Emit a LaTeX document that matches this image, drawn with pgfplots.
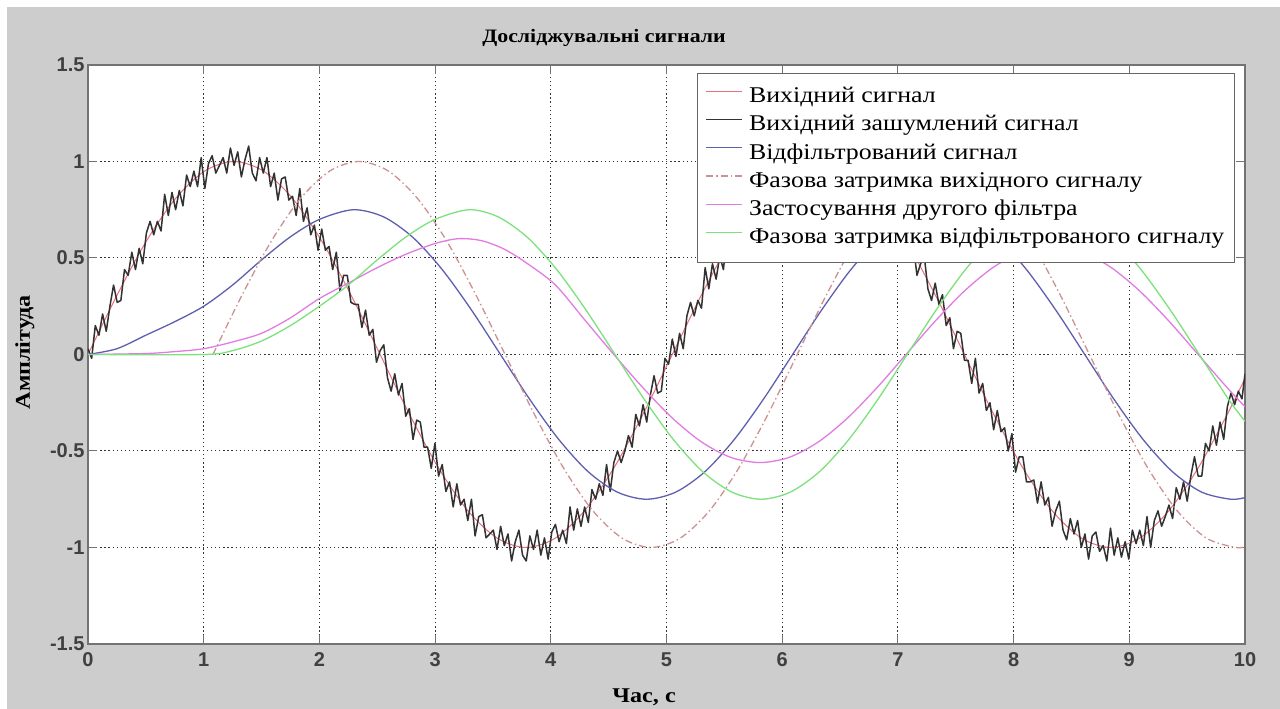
\documentclass[border=0pt]{standalone}
\usepackage{fontspec}
\setmainfont{Liberation Serif}
\setsansfont{Liberation Sans}
\newfontfamily\serifw{Liberation Serif}[FakeStretch=1.15]
\usepackage{pgfplots}
\pgfplotsset{compat=1.18}

\definecolor{figgray}{RGB}{205,205,205}
\definecolor{cred}{RGB}{235,110,125}
\definecolor{cnoise}{RGB}{50,50,50}
\definecolor{cblue}{RGB}{95,95,175}
\definecolor{cdelay}{RGB}{205,145,145}
\definecolor{cmag}{RGB}{225,125,225}
\definecolor{cgreen}{RGB}{125,225,125}

\begin{document}
\begin{tikzpicture}
\useasboundingbox (-88pt,-65pt) rectangle (1192pt,644pt);
\fill[white] (-88pt,-65pt) rectangle (1192pt,644pt);
\fill[figgray] (-81pt,-65pt) rectangle (1192pt,637pt);
\begin{axis}[
  at={(0pt,0pt)}, anchor=south west,
  scale only axis, width=1157pt, height=579pt,
  xmin=0, xmax=10, ymin=-1.5, ymax=1.5,
  xtick={0,1,2,3,4,5,6,7,8,9,10},
  xticklabels={0,1,2,3,4,5,6,7,8,9,10},
  ytick={-1.5,-1,-0.5,0,0.5,1,1.5},
  yticklabels={-1.5,-1,-0.5,0,0.5,1,1.5},
  xtick pos=both, ytick pos=both,
  tick align=inside, major tick length=9pt,
  tick style={black!55, line width=1pt},
  axis line style={black!55, line width=1.3pt},
  axis background/.style={fill=white},
  grid=major,
  major grid style={black!80, line width=1pt, dash pattern=on 1.3pt off 2.8pt},
  every tick label/.append style={font=\sffamily\bfseries\fontsize{20}{21}\selectfont, text=black!75},
  xticklabel style={yshift=-5pt},
  title={Досліджувальні сигнали},
  title style={at={(axis description cs:0.446,1.036)}, anchor=center, yshift=0pt,
    font=\serifw\bfseries\fontsize{19}{22}\selectfont},
  xlabel={Час, с},
  xlabel style={at={(axis description cs:0.4806,-0.0915)}, anchor=center,
    font=\serifw\bfseries\fontsize{21}{24}\selectfont},
  ylabel={Амплітуда},
  ylabel style={at={(axis description cs:-0.0545,0.504)}, anchor=center,
    font=\serifw\bfseries\fontsize{21}{24}\selectfont},
  legend style={at={(axis description cs:0.5264,1)}, anchor=north west, yshift=-8pt,
    draw=black!60, line width=1pt, fill=white,
    inner xsep=8pt, inner ysep=9.5pt, column sep=4pt, row sep=0pt,
    font=\serifw\fontsize{22.5}{27}\selectfont,
    nodes={inner xsep=2pt, inner ysep=2pt, text height=17.5pt, text depth=6.8pt}},
  legend cell align=left,
  legend image code/.code={\draw[#1] (0pt,6pt) -- (36pt,6pt);},
]

% clean sine
\addplot[cred, line width=1pt, smooth] coordinates {
(0,0) (0.2525,0.309) (0.505,0.588) (0.7575,0.809) (1.01,0.951) (1.2625,1)
(1.515,0.951) (1.7675,0.809) (2.02,0.588) (2.2725,0.309) (2.525,0)
(2.7775,-0.309) (3.03,-0.588) (3.2825,-0.809) (3.535,-0.951) (3.7875,-1)
(4.04,-0.951) (4.2925,-0.809) (4.545,-0.588) (4.7975,-0.309) (5.05,0)
(5.3025,0.309) (5.555,0.588) (5.8075,0.809) (6.06,0.951) (6.3125,1)
(6.565,0.951) (6.8175,0.809) (7.07,0.588) (7.3225,0.309) (7.575,0)
(7.8275,-0.309) (8.08,-0.588) (8.3325,-0.809) (8.585,-0.951) (8.8375,-1)
(9.09,-0.951) (9.3425,-0.809) (9.595,-0.588) (9.8475,-0.309) (10,-0.124)
};
\addlegendentry{Вихідний сигнал}

% sine with additive noise
\addplot[cnoise, line width=1.5pt, line join=round] coordinates {
(0,0.03) (0.0316,-0.02) (0.0631,0.15) (0.0947,0.10) (0.1263,0.21) (0.1578,0.12) (0.1894,0.25) (0.2209,0.36)
(0.2525,0.27) (0.2841,0.28) (0.3156,0.44) (0.3472,0.41) (0.3788,0.53) (0.4103,0.44) (0.4419,0.55) (0.4734,0.47)
(0.5050,0.63) (0.5366,0.69) (0.5681,0.62) (0.5997,0.69) (0.6313,0.64) (0.6628,0.83) (0.6944,0.72) (0.7259,0.84)
(0.7575,0.75) (0.7891,0.85) (0.8206,0.77) (0.8522,0.93) (0.8838,0.87) (0.9153,0.95) (0.9469,0.87) (0.9784,1.02)
(1.0100,0.86) (1.0416,0.99) (1.0731,1.03) (1.1047,0.94) (1.1363,0.98) (1.1678,1.02) (1.1994,0.94) (1.2309,1.07)
(1.2625,0.98) (1.2941,1.05) (1.3256,0.92) (1.3572,1.01) (1.3888,1.08) (1.4203,0.94) (1.4519,0.90) (1.4834,1.02)
(1.5150,0.94) (1.5466,1.02) (1.5781,0.87) (1.6097,0.94) (1.6413,0.80) (1.6728,0.91) (1.7044,0.92) (1.7359,0.80)
(1.7675,0.82) (1.7991,0.72) (1.8306,0.86) (1.8622,0.69) (1.8938,0.76) (1.9253,0.62) (1.9569,0.67) (1.9884,0.54)
(2.0200,0.65) (2.0516,0.54) (2.0831,0.56) (2.1147,0.44) (2.1463,0.53) (2.1778,0.33) (2.2094,0.41) (2.2409,0.41)
(2.2725,0.27) (2.3041,0.26) (2.3356,0.26) (2.3672,0.14) (2.3988,0.23) (2.4303,0.10) (2.4619,0.13) (2.4934,-0.04)
(2.5250,0.02) (2.5566,0.05) (2.5881,-0.12) (2.6197,-0.19) (2.6513,-0.10) (2.6828,-0.21) (2.7144,-0.15) (2.7459,-0.32)
(2.7775,-0.28) (2.8091,-0.44) (2.8406,-0.34) (2.8722,-0.35) (2.9038,-0.48) (2.9353,-0.48) (2.9669,-0.59) (2.9984,-0.46)
(3.0300,-0.63) (3.0616,-0.57) (3.0931,-0.71) (3.1247,-0.66) (3.1563,-0.79) (3.1878,-0.67) (3.2194,-0.78) (3.2509,-0.75)
(3.2825,-0.86) (3.3141,-0.75) (3.3456,-0.94) (3.3772,-0.84) (3.4088,-0.83) (3.4403,-0.95) (3.4719,-0.93) (3.5034,-0.91)
(3.5350,-1.01) (3.5666,-0.89) (3.5981,-0.99) (3.6297,-0.93) (3.6613,-1.07) (3.6928,-0.97) (3.7244,-0.91) (3.7559,-1.04)
(3.7875,-1.07) (3.8191,-0.94) (3.8506,-1.01) (3.8822,-0.91) (3.9138,-1.04) (3.9453,-0.95) (3.9769,-1.06) (4.0084,-0.92)
(4.0400,-0.88) (4.0716,-0.97) (4.1031,-0.91) (4.1347,-0.98) (4.1663,-0.79) (4.1978,-0.91) (4.2294,-0.80) (4.2609,-0.89)
(4.2925,-0.79) (4.3241,-0.87) (4.3556,-0.70) (4.3872,-0.75) (4.4188,-0.67) (4.4503,-0.73) (4.4819,-0.57) (4.5134,-0.71)
(4.5450,-0.56) (4.5766,-0.50) (4.6081,-0.56) (4.6397,-0.50) (4.6713,-0.42) (4.7028,-0.48) (4.7344,-0.31) (4.7659,-0.37)
(4.7975,-0.26) (4.8291,-0.35) (4.8606,-0.21) (4.8922,-0.11) (4.9238,-0.20) (4.9553,-0.19) (4.9869,-0.02) (5.0184,-0.05)
(5.0500,0.08) (5.0816,-0.01) (5.1131,0.11) (5.1447,0.03) (5.1763,0.20) (5.2078,0.27) (5.2394,0.20) (5.2709,0.28)
(5.3025,0.24) (5.3341,0.45) (5.3656,0.34) (5.3972,0.47) (5.4288,0.39) (5.4603,0.51) (5.4919,0.44) (5.5234,0.62)
(5.5550,0.57) (5.5866,0.66) (5.6181,0.60) (5.6497,0.76) (5.6813,0.62) (5.7128,0.76) (5.7444,0.82) (5.7759,0.75)
(5.8075,0.80) (5.8391,0.86) (5.8706,0.79) (5.9022,0.94) (5.9338,0.87) (5.9653,0.96) (5.9969,0.84) (6.0284,0.96)
(6.0600,1.04) (6.0916,0.92) (6.1231,0.90) (6.1547,1.04) (6.1863,0.98) (6.2178,1.07) (6.2494,0.95) (6.2809,1.03)
(6.3125,0.91) (6.3441,1.04) (6.3756,1.07) (6.4072,0.96) (6.4388,1.00) (6.4703,0.91) (6.5019,1.07) (6.5334,0.92)
(6.5650,1.00) (6.5966,0.88) (6.6281,0.94) (6.6597,0.83) (6.6913,0.95) (6.7228,0.85) (6.7544,0.89) (6.7859,0.78)
(6.8175,0.89) (6.8491,0.70) (6.8806,0.79) (6.9122,0.79) (6.9438,0.67) (6.9753,0.67) (7.0069,0.68) (7.0384,0.56)
(7.0700,0.66) (7.1016,0.54) (7.1331,0.57) (7.1647,0.41) (7.1963,0.47) (7.2278,0.51) (7.2594,0.34) (7.2909,0.28)
(7.3225,0.37) (7.3541,0.26) (7.3856,0.31) (7.4172,0.15) (7.4488,0.19) (7.4803,0.03) (7.5119,0.12) (7.5434,0.11)
(7.5750,-0.03) (7.6066,-0.03) (7.6381,-0.15) (7.6697,-0.02) (7.7013,-0.20) (7.7328,-0.15) (7.7644,-0.29) (7.7959,-0.25)
(7.8275,-0.39) (7.8591,-0.29) (7.8906,-0.40) (7.9222,-0.38) (7.9538,-0.50) (7.9853,-0.41) (8.0169,-0.61) (8.0484,-0.53)
(8.0800,-0.53) (8.1116,-0.66) (8.1431,-0.66) (8.1747,-0.65) (8.2063,-0.77) (8.2378,-0.66) (8.2694,-0.78) (8.3009,-0.74)
(8.3325,-0.89) (8.3641,-0.81) (8.3956,-0.76) (8.4272,-0.91) (8.4588,-0.96) (8.4903,-0.85) (8.5219,-0.93) (8.5534,-0.86)
(8.5850,-1.00) (8.6166,-0.93) (8.6481,-1.06) (8.6797,-0.94) (8.7113,-0.92) (8.7428,-1.02) (8.7744,-0.99) (8.8059,-1.07)
(8.8375,-0.90) (8.8691,-1.04) (8.9006,-0.95) (8.9322,-1.05) (8.9638,-0.97) (8.9953,-1.06) (9.0269,-0.91) (9.0584,-0.98)
(9.0900,-0.91) (9.1216,-0.99) (9.1531,-0.84) (9.1847,-1.00) (9.2163,-0.86) (9.2478,-0.81) (9.2794,-0.89) (9.3109,-0.84)
(9.3425,-0.78) (9.3741,-0.85) (9.4056,-0.69) (9.4372,-0.75) (9.4688,-0.66) (9.5003,-0.76) (9.5319,-0.63) (9.5634,-0.53)
(9.5950,-0.63) (9.6266,-0.63) (9.6581,-0.46) (9.6897,-0.50) (9.7213,-0.37) (9.7528,-0.47) (9.7844,-0.35) (9.8159,-0.44)
(9.8475,-0.27) (9.8791,-0.20) (9.9106,-0.26) (9.9422,-0.19) (9.9738,-0.23) (10,-0.10)
};
\addlegendentry{Вихідний зашумлений сигнал}

% output of the first filter
\addplot[cblue, line width=1.3pt, smooth] coordinates {
(0,0) (0.25,0.03) (0.5,0.10) (0.75,0.17) (1.0,0.25) (1.25,0.36) (1.5,0.49)
(1.75,0.61) (2.0,0.70) (2.2925,0.75) (2.555,0.713) (2.8075,0.607) (3.06,0.441)
(3.3125,0.232) (3.565,0) (3.8175,-0.232) (4.07,-0.441) (4.3225,-0.607)
(4.575,-0.713) (4.8275,-0.75) (5.08,-0.713) (5.3325,-0.607) (5.585,-0.441)
(5.8375,-0.232) (6.09,0) (6.3425,0.232) (6.595,0.441) (6.8475,0.607)
(7.1,0.713) (7.3525,0.75) (7.605,0.713) (7.8575,0.607) (8.11,0.441)
(8.3625,0.232) (8.615,0) (8.8675,-0.232) (9.12,-0.441) (9.3725,-0.607)
(9.625,-0.713) (9.8775,-0.75) (10,-0.741)
};
\addlegendentry{Відфільтрований сигнал}

% clean sine shifted by the filter delay
\addplot[cdelay, line width=1.3pt, smooth, dash pattern=on 7pt off 3pt on 1.5pt off 3pt] coordinates {
(1.08,0) (1.3325,0.309) (1.585,0.588) (1.8375,0.809) (2.09,0.951) (2.3425,1)
(2.595,0.951) (2.8475,0.809) (3.1,0.588) (3.3525,0.309) (3.605,0)
(3.8575,-0.309) (4.11,-0.588) (4.3625,-0.809) (4.615,-0.951) (4.8675,-1)
(5.12,-0.951) (5.3725,-0.809) (5.625,-0.588) (5.8775,-0.309) (6.13,0)
(6.3825,0.309) (6.635,0.588) (6.8875,0.809) (7.14,0.951) (7.3925,1)
(7.645,0.951) (7.8975,0.809) (8.15,0.588) (8.4025,0.309) (8.655,0)
(8.9075,-0.309) (9.16,-0.588) (9.4125,-0.809) (9.665,-0.951) (9.9175,-1) (10,-0.995)
};
\addlegendentry{Фазова затримка вихідного сигналу}
\addplot[cdelay, line width=1.3pt, dash pattern=on 7pt off 3pt on 1.5pt off 3pt, forget plot]
  coordinates {(0,0) (1.08,0)};

% output of the second filter
\addplot[cmag, line width=1.3pt, smooth] coordinates {
(0,0) (0.5,0.005) (0.75,0.015) (1.0,0.03) (1.25,0.065) (1.5,0.11) (1.75,0.19)
(2.0,0.29) (2.25,0.37) (2.5,0.45) (2.75,0.52) (3.0,0.575) (3.2,0.60) (3.4,0.59)
(3.6,0.545) (3.8,0.47) (4.04,0.36) (4.2925,0.18) (4.545,0) (4.7975,-0.173)
(5.05,-0.329) (5.3025,-0.453) (5.555,-0.533) (5.8075,-0.56) (6.06,-0.533)
(6.3125,-0.453) (6.565,-0.329) (6.8175,-0.173) (7.07,0) (7.3225,0.173)
(7.575,0.329) (7.8275,0.453) (8.08,0.533) (8.3325,0.56) (8.585,0.533)
(8.8375,0.453) (9.09,0.329) (9.3425,0.173) (9.595,0) (9.8475,-0.173) (10,-0.271)
};
\addlegendentry{Застосування другого фільтра}

% filtered signal shifted by the filter delay
\addplot[cgreen, line width=1.3pt, smooth] coordinates {
(0,0) (1.0,0) (1.25,0.02) (1.5,0.07) (1.75,0.15) (2.0,0.25) (2.25,0.36)
(2.5,0.49) (2.75,0.61) (3.0,0.70) (3.2925,0.75) (3.545,0.713) (3.7975,0.607)
(4.05,0.441) (4.3025,0.232) (4.555,0) (4.8075,-0.232) (5.06,-0.441)
(5.3125,-0.607) (5.565,-0.713) (5.8175,-0.75) (6.07,-0.713) (6.3225,-0.607)
(6.575,-0.441) (6.8275,-0.232) (7.08,0) (7.3325,0.232) (7.585,0.441)
(7.8375,0.607) (8.09,0.713) (8.3425,0.75) (8.595,0.713) (8.8475,0.607)
(9.1,0.441) (9.3525,0.232) (9.605,0) (9.8575,-0.232) (10,-0.346)
};
\addlegendentry{Фазова затримка відфільтрованого сигналу}

\end{axis}
\end{tikzpicture}
\end{document}
